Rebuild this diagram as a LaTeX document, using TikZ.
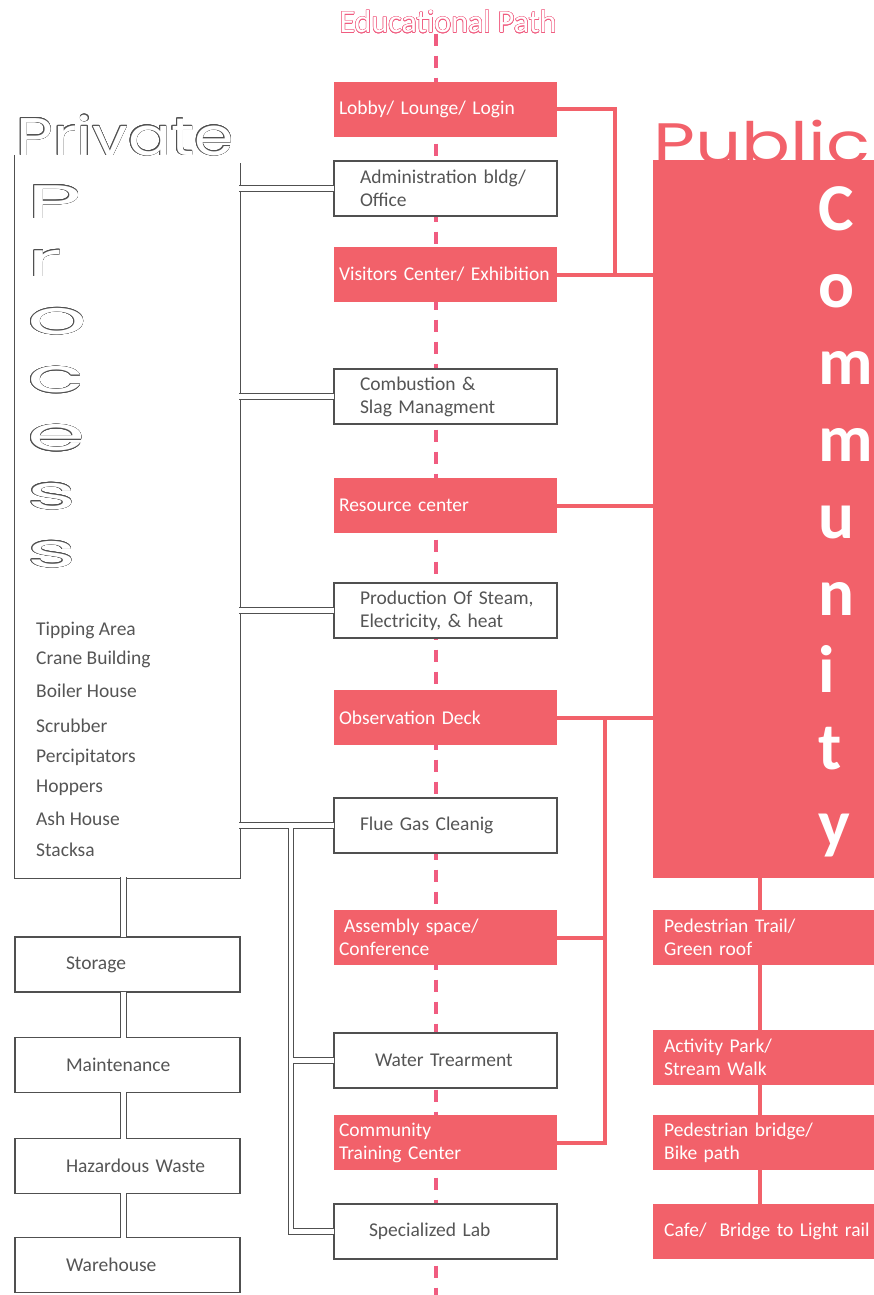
\documentclass[tikz,border=0pt]{standalone}
\usepackage{fontspec}
\usepackage{xcolor}
\usepackage{contour}
\setmainfont{Carlito}
\newfontfamily\widefont[FakeStretch=1.2]{Poppins}
\newfontfamily\extrawide[FakeStretch=2.0]{Poppins}
\newfontfamily\publicfont[FakeStretch=1.27]{Poppins}
\newcommand\boxfont{\fontsize{19.5}{23}\selectfont}
\definecolor{pubred}{RGB}{242,97,106}
\definecolor{edupink}{RGB}{240,92,128}
\definecolor{boxgray}{RGB}{80,80,80}
\definecolor{textgray}{RGB}{85,85,85}
\contourlength{0.5pt}

\begin{document}
\begin{tikzpicture}[
    x=1pt, y=-1pt,
    pubbox/.style={
      rectangle, fill=pubred, text=white, align=left,
      minimum width=223, minimum height=55, inner xsep=5, text width=213, font=\boxfont
    },
    privbox/.style={
      rectangle, draw=boxgray, line width=1.1, fill=white, text=textgray, align=left,
      minimum width=223, minimum height=55, inner xsep=26, text width=171, font=\boxfont
    },
    lbox/.style={privbox, minimum width=225, inner xsep=51, text width=123},
    rbox/.style={pubbox, anchor=west, minimum width=240, inner xsep=11, text width=218},
    pubfill/.style={rectangle, fill=pubred, anchor=west, inner sep=0, minimum width=240, minimum height=718},
    edutitle/.style={text=white, inner sep=0, font=\fontsize{32}{32}\selectfont},
    publictitle/.style={text=pubred, anchor=base west, inner sep=0, font=\publicfont\fontsize{57}{57}\selectfont},
    privtitle/.style={text=white, anchor=base west, inner sep=0, font=\widefont\fontsize{53}{53}\selectfont},
    procletter/.style={text=white, anchor=base west, inner sep=0, font=\extrawide\fontsize{47}{47}\selectfont},
    commletter/.style={text=white, anchor=base west, inner sep=0, font=\bfseries\fontsize{67}{67}\selectfont},
    listitem/.style={text=textgray, anchor=west, inner sep=0, font=\boxfont},
    edupath/.style={draw=edupink, line width=4, dash pattern=on 12pt off 10pt},
    redline/.style={draw=pubred, line width=4},
    wire/.style={draw=boxgray, line width=1.1},
    channel/.style={draw=boxgray, line width=1.1, double=white, double distance=4.4},
  ]
  \clip (0,0) rectangle (874,1295);

  % Educational path (dashed spine)
  \node[edutitle] (edu) at (448,22) {\contour{edupink}{Educational Path}};
  \coordinate (pathend) at (436,1295);
  \draw[edupath] (edu.south -| pathend) -- (pathend);

  % Public side: big block with the word Community
  \node[publictitle] (public) at (653,163) {Public};
  \node[pubfill] (comm) at (653,519) {};
  \foreach \ch [count=\i] in {C,o,m,m,u,n,i,t,y}
    \node[commletter] (cl\i) at (818,{230+77*(\i-1)}) {\ch};

  % Public column below the block
  \coordinate (spine) at (760,0);
  \draw[redline] (comm.south -| spine) -- (760,1231.5);
  \node[rbox] (trail)  at (653,937.5)  {Pedestrian Trail/\\Green roof};
  \node[rbox] (park)   at (653,1057.5) {Activity Park/\\Stream Walk};
  \node[rbox] (bridge) at (653,1142.5) {Pedestrian bridge/\\Bike path};
  \node[rbox] (cafe)   at (653,1231.5) {Cafe/\ \ Bridge to Light rail};

  % Central column
  \node[pubbox]  (lobby)    at (445.5,109.5)  {Lobby/ Lounge/ Login};
  \node[privbox] (admin)    at (445.5,188.5)  {Administration~bldg/\\Office};
  \node[pubbox]  (visitor)  at (445.5,274.5)  {Visitors~Center/~Exhibition};
  \node[privbox] (combust)  at (445.5,396.5)  {Combustion \&\\Slag Managment};
  \node[pubbox]  (resource) at (445.5,505.5)  {Resource center};
  \node[privbox] (steam)    at (445.5,610.5)  {Production~Of~Steam,\\Electricity,~\&~heat};
  \node[pubbox]  (deck)     at (445.5,717.5)  {Observation Deck};
  \node[privbox] (flue)     at (445.5,825.5)  {Flue Gas Cleanig};
  \node[pubbox]  (assembly) at (445.5,937.5)  {\hspace*{5pt}Assembly space/\\Conference};
  \node[privbox, inner xsep=41, text width=141] (water) at (445.5,1060.5) {Water Trearment};
  \node[pubbox]  (training) at (445.5,1142.5) {Community\\Training Center};
  \node[privbox, inner xsep=35, text width=153] (lab) at (445.5,1231.5) {Specialized Lab};

  % Red links into the public block
  \coordinate (lobbyjoin) at (615,274.5);
  \coordinate (deckjoin) at (605,717.5);
  \draw[redline] (lobby.east) -| (lobbyjoin);
  \draw[redline] (visitor.east) -- (visitor.east -| comm.west);
  \draw[redline] (resource.east) -- (resource.east -| comm.west);
  \draw[redline] (deck.east) -- (deck.east -| comm.west);
  \draw[redline] (deckjoin) |- (training.east);
  \draw[redline] (assembly.east) -- (assembly.east -| deckjoin);

  % Private side: open-topped frame
  \node[inner sep=0, minimum width=225, minimum height=723] (privbox) at (127.5,516.5) {};
  \draw[wire] (privbox.north west) -- (privbox.south west) -- (privbox.south east) -- ([yshift=-8pt]privbox.north east);
  \node[privtitle] (private) at (16,155) {\contour{boxgray}{Private}};
  \foreach \ch [count=\i] in {P,r,o,c,e,s,s}
    \node[procletter] (pl\i) at (27,{218+58.2*(\i-1)}) {\contour{boxgray}{\ch}};
  \foreach \lbl/\yy [count=\i] in {Tipping Area/630, Crane Building/659, Boiler House/691,
      Scrubber/726, Percipitators/757, Hoppers/788, Ash House/819, Stacksa/850}
    \node[listitem] (it\i) at (36,\yy) {\lbl};

  % Private column below the frame
  \node[lbox] (storage)   at (127.5,964.5) {Storage};
  \node[lbox] (maint)     at (127.5,1065)  {Maintenance};
  \node[lbox] (hazard)    at (127.5,1166)  {Hazardous~Waste};
  \node[lbox] (warehouse) at (127.5,1265)  {Warehouse};

  % Double-line channels (drawn last so they open the box edges)
  \coordinate (stack) at (123.5,0);
  \coordinate (labspine) at (291,0);
  \foreach \a/\b in {privbox/storage, storage/maint, maint/hazard, hazard/warehouse}
    \draw[channel] ([yshift=1pt]\a.south -| stack) -- ([yshift=-1pt]\b.north -| stack);
  \foreach \n in {admin, combust, steam}
    \draw[channel] ([xshift=-1pt]\n.west -| privbox.east) -- ([xshift=1pt]\n.west);
  \draw[channel] ([xshift=-1pt]flue.west -| privbox.east) -- ([xshift=1pt]flue.west)
    (flue.west -| labspine) |- ([xshift=1pt]lab.west)
    (water.west -| labspine) -- ([xshift=1pt]water.west);

\end{tikzpicture}
\end{document}
